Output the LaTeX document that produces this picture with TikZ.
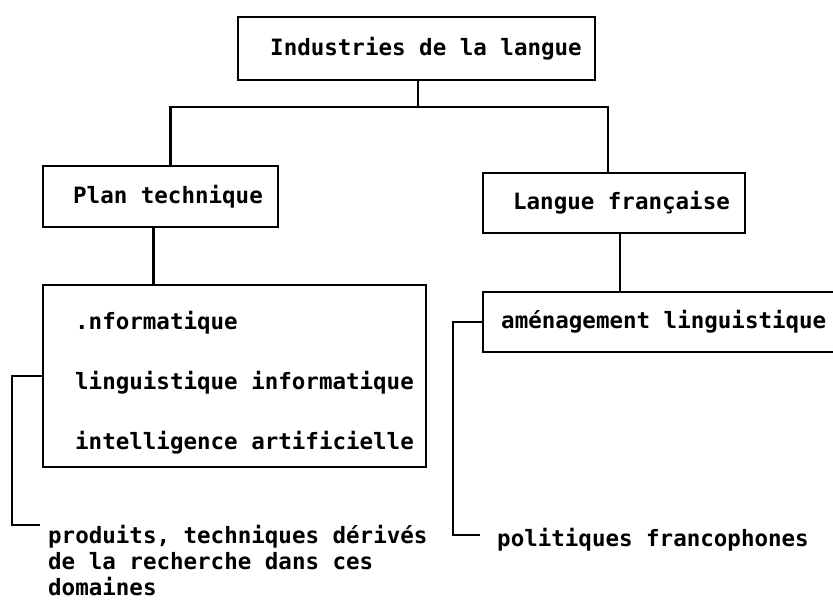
\documentclass[tikz,border=0pt]{standalone}
\usepackage{fontspec}
\setmonofont{DejaVu Sans Mono}
\begin{document}
\begin{tikzpicture}[x=1pt,y=-1pt,
  every node/.style={font=\ttfamily\bfseries\fontsize{22.5}{26}\selectfont},
  frame/.style={draw,line width=2.4pt,inner sep=0pt},
  label/.style={inner sep=0pt},
  link/.style={line width=2.4pt}]
\clip (0,0) rectangle (833,600);
\useasboundingbox (0,0) rectangle (833,600);

% boxes
\node[frame,minimum width=357pt,minimum height=63pt] (top) at (416.5,48.5)
  {\hspace*{19pt}Industries de la langue};
\node[frame,minimum width=235pt,minimum height=61pt] (plan) at (160.5,196.5)
  {\hspace*{15pt}Plan technique};
\node[frame,minimum width=262pt,minimum height=60pt] (langue) at (614,203)
  {\hspace*{15pt}Langue française};
\node[frame,minimum width=383pt,minimum height=182pt] (list) at (234.5,376) {};
\node[frame,inner xsep=18pt,minimum height=60pt,anchor=west] (amen) at (482,322)
  {aménagement linguistique};

% entries of the technical box
\node[label,anchor=base west] (i1) at (75,329) {.nformatique};
\node[label,anchor=base west] (i2) at (75,389) {linguistique informatique};
\node[label,anchor=base west] (i3) at (75,449) {intelligence artificielle};

% free captions
\node[label,anchor=north west,align=left] (prod) at (48,525)
  {produits, techniques dérivés\\de la recherche dans ces\\domaines};
\node[label,anchor=west] (pol) at (497,540) {politiques francophones};

% tree connectors
\coordinate (bus) at (418,107);
\draw[link] (top.south -| bus) -- (bus);
\draw[link] ([xshift=10pt]plan.north) |- (bus) -| ([xshift=-6pt]langue.north);
\draw[link] ([xshift=-7pt]plan.south) -- ([xshift=-7pt]plan.south |- list.north);
\draw[link] ([xshift=6pt]langue.south) -- ([xshift=6pt]langue.south |- amen.north);

% brackets to the captions
\draw[link] (list.west) -- ++(-30,0) |- ([xshift=-8pt]prod.north west);
\draw[link] (amen.west) -- ++(-29,0) |- ([xshift=-17pt,yshift=5pt]pol.west);
\end{tikzpicture}
\end{document}
